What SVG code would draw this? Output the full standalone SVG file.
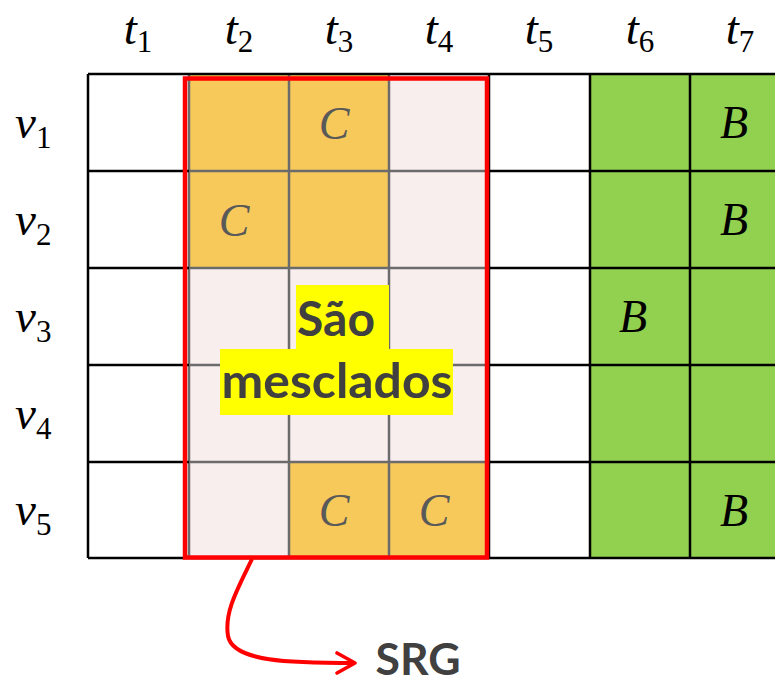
<svg xmlns="http://www.w3.org/2000/svg" width="775" height="684" viewBox="0 0 775 684">
<defs>
<style>
.math{font-family:"Liberation Serif","Times New Roman",serif;font-style:italic;font-size:47px;fill:#000}
.sub{font-style:normal;font-size:31px}
.cl{font-family:"Liberation Serif",serif;font-style:italic;font-size:46px;fill:#595959;text-anchor:middle}
.bl{font-family:"Liberation Serif",serif;font-style:italic;font-size:46px;fill:#000;text-anchor:middle}
.blk{stroke:#000;stroke-width:2.5;fill:none}
.gry{stroke:#6b6b6b;stroke-width:2.5;fill:none}
.note{font-family:Lato,"Open Sans",sans-serif;font-weight:bold;fill:#404040;text-anchor:middle}
.org{fill:#F7C95B}
</style>
<marker id="arr" viewBox="0 0 12 12" refX="10" refY="6" markerWidth="6" markerHeight="6" markerUnits="strokeWidth" orient="auto">
<path d="M1,1 L10,6 L1,11" fill="none" stroke="#FF0000" stroke-width="1.8" stroke-linecap="round" stroke-linejoin="round"/>
</marker>
</defs>
<rect width="775" height="684" fill="#fff"/>

<g id="column-labels" class="math" text-anchor="middle">
<text x="138" y="44">t<tspan class="sub" dy="8">1</tspan></text>
<text x="239" y="44">t<tspan class="sub" dy="8">2</tspan></text>
<text x="339" y="44">t<tspan class="sub" dy="8">3</tspan></text>
<text x="439" y="44">t<tspan class="sub" dy="8">4</tspan></text>
<text x="539" y="44">t<tspan class="sub" dy="8">5</tspan></text>
<text x="640" y="44">t<tspan class="sub" dy="8">6</tspan></text>
<text x="740" y="44">t<tspan class="sub" dy="8">7</tspan></text>
</g>

<g id="row-labels" class="math">
<text x="15" y="138">v<tspan class="sub" dy="10">1</tspan></text>
<text x="15" y="235">v<tspan class="sub" dy="10">2</tspan></text>
<text x="15" y="332">v<tspan class="sub" dy="10">3</tspan></text>
<text x="15" y="429">v<tspan class="sub" dy="10">4</tspan></text>
<text x="15" y="525">v<tspan class="sub" dy="10">5</tspan></text>
</g>

<g id="grid">
<rect x="590" y="74" width="190" height="484" fill="#92D050"/>
<rect x="189" y="74" width="300" height="484" fill="#F8EEEE"/>
<rect class="org" x="189" y="74" width="200" height="194"/>
<rect class="org" x="289" y="462" width="200" height="96"/>
<path class="gry" d="M289,74V558M389,74V558M189,171H489M189,268H489M189,365H489M189,462H489M189,74V558"/>
<path class="blk" d="M88,74H780M88,558H780M88,74V558M489,74V558M590,74V558M690,74V558M88,171H189M88,268H189M88,365H189M88,462H189M489,171H780M489,268H780M489,365H780M489,462H780"/>
</g>

<g id="cell-labels">
<text class="cl" x="334" y="139">C</text>
<text class="cl" x="234" y="236">C</text>
<text class="cl" x="334" y="526">C</text>
<text class="cl" x="434" y="526">C</text>
<text class="bl" x="734" y="138">B</text>
<text class="bl" x="734" y="235">B</text>
<text class="bl" x="633" y="332">B</text>
<text class="bl" x="734" y="526">B</text>
</g>

<g id="srg-box">
<rect x="185" y="78.5" width="302" height="479" fill="none" stroke="#FF0000" stroke-width="4.5"/>
</g>

<g id="merged-note">
<rect x="296" y="285" width="93" height="64" fill="#FFFF00"/>
<rect x="220" y="349" width="233" height="66" fill="#FFFF00"/>
<text class="note" x="336" y="336" font-size="47" textLength="78" lengthAdjust="spacingAndGlyphs">São</text>
<text class="note" x="337" y="398" font-size="47" textLength="231" lengthAdjust="spacingAndGlyphs">mesclados</text>
</g>

<g id="connectors">
<path d="M252,559 C238,588 224,612 228,636 C233,662 290,663 355,663" fill="none" stroke="#FF0000" stroke-width="4" marker-end="url(#arr)"/>
</g>

<g id="srg-label">
<text class="note" x="418" y="675" font-size="43" textLength="85" lengthAdjust="spacingAndGlyphs">SRG</text>
</g>
</svg>
